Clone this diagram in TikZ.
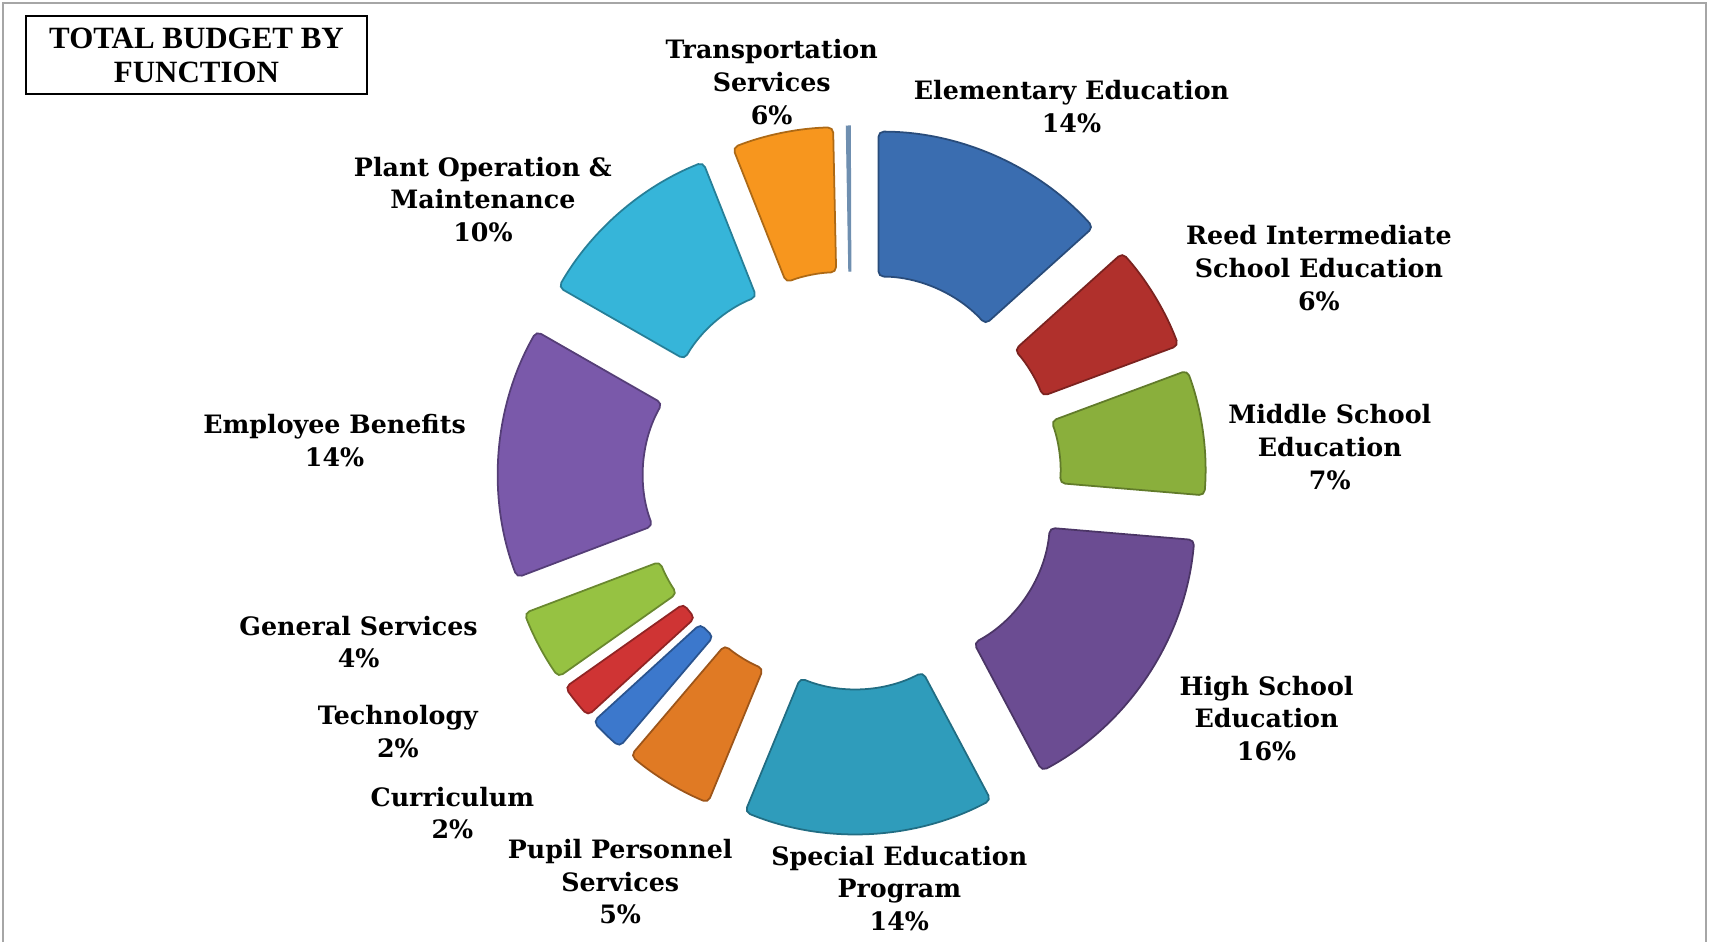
\documentclass[tikz,border=0pt]{standalone}
\usepackage{fontspec}
\usepackage{xcolor}
\usepackage{tikz}
\newfontfamily\labelfont{DejaVu Serif}
\newfontfamily\titlefont{Liberation Serif}

\definecolor{elemblue}{HTML}{3A6DB0}
\definecolor{reedred}{HTML}{B0302C}
\definecolor{midgreen}{HTML}{8AAF3C}
\definecolor{highpurple}{HTML}{6B4C92}
\definecolor{spedteal}{HTML}{2F9CBB}
\definecolor{pupilorange}{HTML}{E07A24}
\definecolor{currblue}{HTML}{3C78CC}
\definecolor{techred}{HTML}{CF3434}
\definecolor{gengreen}{HTML}{96C242}
\definecolor{emplpurple}{HTML}{7A59AA}
\definecolor{plantcyan}{HTML}{36B5D9}
\definecolor{transorange}{HTML}{F7961E}
\definecolor{otherslate}{HTML}{6F8FB0}

% one exploded ring slice: start angle, end angle, colour
\newcommand{\budgetslice}[3]{%
  \pgfmathsetmacro{\sliceMid}{(#1+#2)/2}
  \draw[fill=#3, draw=#3!70!black, line width=0.5pt, rounded corners=1.5pt, shift={(\sliceMid:65)}]
    (#1:289) arc[start angle=#1, end angle=#2, radius=289]
    -- (#2:144) arc[start angle=#2, end angle=#1, radius=144] -- cycle;
}

\tikzset{
  budgetlabel/.style={font=\labelfont\bfseries\fontsize{7.2}{9.3}\selectfont, align=center, inner sep=0pt}
}

\begin{document}
\begin{tikzpicture}[x=0.01cm, y=0.01cm]
  \useasboundingbox (0,0) rectangle (1709,942);
  % Frame
  \draw[gray!70, line width=0.6pt] (3,0) -- (3,939) -- (1706,939) -- (1706,0);

  % Title
  \node[draw, line width=0.6pt, minimum width=3.41cm, minimum height=0.78cm, align=center,
        font=\titlefont\bfseries\fontsize{8.8}{9.7}\selectfont] (title) at (196.5,887)
        {TOTAL BUDGET BY\\FUNCTION};

  % Ring of slices
  \begin{scope}[shift={(852,462)}]
    \budgetslice{90}{42}{elemblue}
    \budgetslice{42}{20.4}{reedred}
    \budgetslice{20.4}{-4.8}{midgreen}
    \budgetslice{-4.8}{-62}{highpurple}
    \budgetslice{-62}{-112.4}{spedteal}
    \budgetslice{-112.4}{-130.4}{pupilorange}
    \budgetslice{-130.4}{-137.6}{currblue}
    \budgetslice{-137.6}{-144.8}{techred}
    \budgetslice{-144.8}{-159.2}{gengreen}
    \budgetslice{-159.2}{-209.8}{emplpurple}
    \budgetslice{150.2}{111.6}{plantcyan}
    \budgetslice{111.6}{91.2}{transorange}
    % thin unlabeled slice
    \draw[fill=otherslate, draw=otherslate, line width=0.3pt, shift={(90.6:65)}]
      (91:289) arc[start angle=91, end angle=90.2, radius=289]
      -- (90.2:144) arc[start angle=90.2, end angle=91, radius=144] -- cycle;
  \end{scope}

  % Labels
  \node[budgetlabel] (trans) at (771.7,860) {Transportation\\Services\\6\%};
  \node[budgetlabel] (elem) at (1071.5,835.7) {Elementary Education\\14\%};
  \node[budgetlabel] (reed) at (1318.9,673.9) {Reed Intermediate\\School Education\\6\%};
  \node[budgetlabel] (middle) at (1329.8,495.1) {Middle School\\Education\\7\%};
  \node[budgetlabel] (high) at (1266.6,223.7) {High School\\Education\\16\%};
  \node[budgetlabel] (sped) at (899.3,53.6) {Special Education\\Program\\14\%};
  \node[budgetlabel] (pupil) at (620.2,60.2) {Pupil Personnel\\Services\\5\%};
  \node[budgetlabel] (curr) at (452.4,128.9) {Curriculum\\2\%};
  \node[budgetlabel] (tech) at (397.9,210.6) {Technology\\2\%};
  \node[budgetlabel] (gen) at (358.6,300) {General Services\\4\%};
  \node[budgetlabel] (empl) at (334.6,501.1) {Employee Benefits\\14\%};
  \node[budgetlabel] (plant) at (482.9,742.5) {Plant Operation \&\\Maintenance\\10\%};
\end{tikzpicture}
\end{document}
